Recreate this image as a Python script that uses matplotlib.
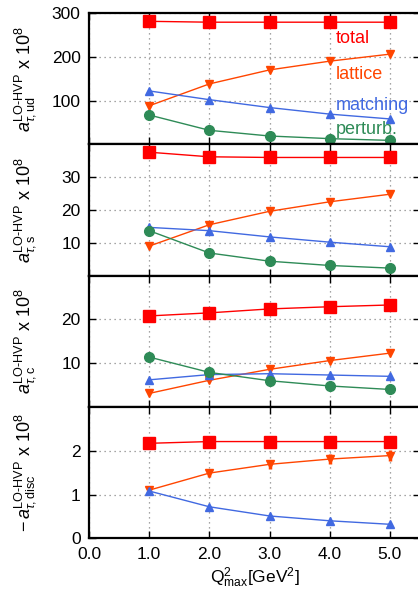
import matplotlib
matplotlib.use("Agg")
import matplotlib.pyplot as plt
import numpy as np

plt.rcParams['font.family'] = ['Liberation Sans', 'DejaVu Sans']
plt.rcParams['mathtext.fontset'] = 'custom'
plt.rcParams['mathtext.rm'] = 'Liberation Sans'
plt.rcParams['mathtext.it'] = 'Liberation Sans:italic'
plt.rcParams['mathtext.sf'] = 'Liberation Sans'

# Q^2_max in GeV^2
q2 = [1.0, 2.0, 3.0, 4.0, 5.0]

# ud channel
ud_total = [281, 279, 279, 279, 279]
ud_lattice = [88, 138, 170, 190, 206]
ud_matching = [122, 102, 84, 69, 58]
ud_perturb = [67, 32, 19, 13, 9]

# s channel
s_total = [37.6, 36.2, 36.0, 36.0, 36.0]
s_lattice = [9.0, 15.5, 19.6, 22.5, 24.8]
s_matching = [14.7, 13.7, 11.8, 10.2, 8.8]
s_perturb = [13.7, 6.9, 4.4, 3.1, 2.3]

# c channel
c_total = [20.8, 21.5, 22.4, 22.9, 23.3]
c_lattice = [3.1, 6.1, 8.6, 10.6, 12.3]
c_matching = [6.2, 7.4, 7.6, 7.3, 7.0]
c_perturb = [11.4, 7.9, 6.0, 4.8, 4.0]

# disconnected (minus sign)
d_total = [2.17, 2.21, 2.21, 2.21, 2.21]
d_total_err = [0.09, 0.09, 0.09, 0.09, 0.09]
d_lattice = [1.10, 1.49, 1.69, 1.81, 1.89]
d_lattice_err = [0.07, 0.10, 0.11, 0.12, 0.13]
d_matching = [1.08, 0.72, 0.51, 0.40, 0.32]
d_matching_err = [0.06, 0.02, 0.01, 0.01, 0.01]

red = '#ff0000'
orange = '#ff4500'
blue = '#4169e1'
green = '#2e8b57'

W, H = 418, 593
fig = plt.figure(figsize=(W / 100, H / 100), dpi=100)

left = 89 / W
right = 420 / W
top_px = 13
bottom_px = 538.3
ph = (bottom_px - top_px) / 4

panels = [
    (ud_total, ud_lattice, ud_matching, ud_perturb, 300, [100, 200, 300],
     r'$a^{\mathrm{LO\text{-}HVP}}_{\tau,\mathrm{ud}}$ x 10$^8$'),
    (s_total, s_lattice, s_matching, s_perturb, 40, [10, 20, 30],
     r'$a^{\mathrm{LO\text{-}HVP}}_{\tau,\mathrm{s}}$ x 10$^8$'),
    (c_total, c_lattice, c_matching, c_perturb, 30, [10, 20],
     r'$a^{\mathrm{LO\text{-}HVP}}_{\tau,\mathrm{c}}$ x 10$^8$'),
    (d_total, d_lattice, d_matching, None, 3, [0, 1, 2],
     r'$-\,a^{\mathrm{LO\text{-}HVP}}_{\tau,\mathrm{disc}}$ x 10$^8$'),
]

axes = []
for i, (tot, lat, mat, per, ymax, yt, lab) in enumerate(panels):
    y0 = 1 - (top_px + (i + 1) * ph) / H
    ax = fig.add_axes([left, y0, right - left, ph / H])
    axes.append(ax)
    ax.set_xlim(0, 5.5)
    ax.set_ylim(0, ymax)
    ax.set_xticks([0, 1, 2, 3, 4, 5])
    ax.set_yticks(yt)
    ax.grid(True, linestyle=(0, (1, 3)), color='#888888', linewidth=0.9)
    ax.set_axisbelow(True)
    ax.tick_params(direction='in', top=True, right=True, length=5,
                   width=1, labelsize=12.5, pad=6)
    for sp in ax.spines.values():
        sp.set_linewidth(1.6)

    if i < 3:
        ax.plot(q2, tot, color=red, marker='s', markersize=8, lw=1.0)
        ax.plot(q2, lat, color=orange, marker='v', markersize=6, lw=1.0)
        ax.plot(q2, mat, color=blue, marker='^', markersize=6, lw=1.0)
        ax.plot(q2, per, color=green, marker='o', markersize=7, lw=1.0)
    else:
        ax.errorbar(q2, tot, yerr=d_total_err, color=red, marker='s',
                    markersize=8, lw=1.0, elinewidth=2.5, capsize=0)
        ax.errorbar(q2, lat, yerr=d_lattice_err, color=orange, marker='v',
                    markersize=6, lw=1.0, elinewidth=2.5, capsize=0)
        ax.errorbar(q2, mat, yerr=d_matching_err, color=blue, marker='^',
                    markersize=6, lw=1.0, elinewidth=2.5, capsize=0)

    ax.set_ylabel(lab, fontsize=13)
    ax.yaxis.set_label_coords(-0.155, 0.5)
    if i < 3:
        ax.tick_params(labelbottom=False)

axes[-1].set_xticklabels(['0.0', '1.0', '2.0', '3.0', '4.0', '5.0'])
axes[-1].set_xlabel(r'Q$^2_{\mathrm{max}}$[GeV$^2$]', fontsize=12.5, labelpad=3)

ax0 = axes[0]
ax0.text(4.1, 242, 'total', color=red, fontsize=13, va='center')
ax0.text(4.1, 160, 'lattice', color=orange, fontsize=13, va='center')
ax0.text(4.1, 89, 'matching', color=blue, fontsize=13, va='center')
ax0.text(4.1, 33, 'perturb.', color=green, fontsize=13, va='center')

fig.savefig('out.png', dpi=100)
